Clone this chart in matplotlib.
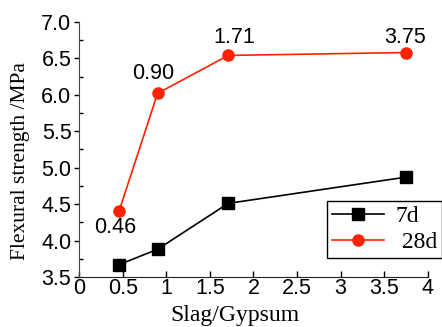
import matplotlib
matplotlib.use("Agg")
import matplotlib.pyplot as plt
from matplotlib.ticker import MultipleLocator

ratio = [0.46, 0.90, 1.71, 3.75]
d7 = [3.67, 3.88, 4.51, 4.87]
d28 = [4.41, 6.02, 6.54, 6.58]
labels = ["0.46", "0.90", "1.71", "3.75"]

fig = plt.figure(figsize=(4.42, 3.27), dpi=100)
ax = fig.add_axes([0.179, 0.153, 0.789, 0.78])

red = "#FF2200"
ax.plot(ratio, d7, color="black", marker="s", markersize=8, lw=1.2, label="7d")
ax.plot(ratio, d28, color=red, marker="o", markersize=8, lw=1.2, label=" 28d")

offsets = [(-3, -12), (-3, 14), (4, 13), (-1, 11)]
for x, y, t, (dx, dy) in zip(ratio, d28, labels, offsets):
    ax.annotate(t, (x, y), xytext=(dx, dy), textcoords="offset points",
                ha="center", va="center", fontsize=15.5, family="Liberation Sans")

ax.set_xlim(0, 4)
ax.set_ylim(3.5, 7.0)
ax.yaxis.set_minor_locator(MultipleLocator(0.25))
ax.set_xticks([0, 0.5, 1, 1.5, 2, 2.5, 3, 3.5, 4])
ax.set_xticklabels(["0", "0.5", "1", "1.5", "2", "2.5", "3", "3.5", "4"])
ax.set_yticks([3.5, 4.0, 4.5, 5.0, 5.5, 6.0, 6.5, 7.0])
ax.set_yticklabels(["3.5", "4.0", "4.5", "5.0", "5.5", "6.0", "6.5", "7.0"])

for lab in ax.get_xticklabels() + ax.get_yticklabels():
    lab.set_family("Liberation Sans")
    lab.set_fontsize(15.5)

ax.tick_params(axis="x", which="major", direction="in", length=4, width=1, pad=1)
ax.tick_params(axis="y", which="major", direction="out", length=3.5, width=1, pad=2)
ax.tick_params(axis="y", which="minor", direction="in", length=3, width=1)

ax.spines["top"].set_visible(False)
ax.spines["right"].set_visible(False)
ax.spines["left"].set_color("#444444")
ax.spines["bottom"].set_color("#222222")

ax.set_xlabel("Slag/Gypsum", family="Liberation Serif", fontsize=17, va="center")
ax.xaxis.set_label_coords(0.447, -0.153)
fig.text(21 / 442, 1 - 161.5 / 327, "Flexural strength /MPa", rotation=90,
         ha="center", va="center", family="Liberation Serif", fontsize=15.5)

leg = ax.legend(loc="upper left", bbox_to_anchor=(0.711, 0.298), borderaxespad=0,
                frameon=True, fancybox=False, edgecolor="black", framealpha=1,
                prop={"family": "Liberation Serif", "size": 17},
                handlelength=2.2, borderpad=0.2, labelspacing=0.2, handletextpad=0.5)
leg.get_frame().set_linewidth(1.0)

fig.savefig("out.png", dpi=100)
